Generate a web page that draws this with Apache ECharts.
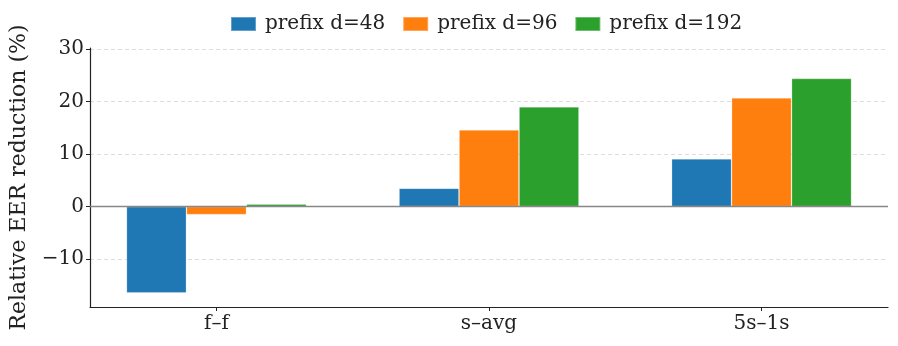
<!DOCTYPE html>
<html>
<head>
<meta charset="utf-8">
<script src="https://cdn.jsdelivr.net/npm/echarts@6/dist/echarts.min.js"></script>
<style>
  html, body { margin: 0; padding: 0; background: #fff; }
  #chart { width: 898px; height: 346px; }
</style>
</head>
<body>
<div id="chart"></div>
<script>
// data
var categories = ['f–f', 's–avg', '5s–1s']
var seriesNames = ['prefix d=48', 'prefix d=96', 'prefix d=192']
var d48 = [-16.4, 3.5, 9.1]
var d96 = [-1.5, 14.6, 20.7]
var d192 = [0.5, 19.0, 24.4]
var yTicks = [-10, 0, 10, 20, 30]
var colors = ['#1f77b4', '#ff7f0e', '#2ca02c']

var font = 'DejaVu Serif'
var chart = echarts.init(document.getElementById('chart'), null, { renderer: 'canvas' })

function toPoints(vals) {
  return vals.map(function (v, i) { return [i, v] })
}

var allData = [d48, d96, d192]
var series = allData.map(function (vals, k) {
  var s = {
    name: seriesNames[k],
    type: 'bar',
    data: toPoints(vals),
    barWidth: 60,
    barGap: '0%',
    itemStyle: {
      color: colors[k],
      borderColor: 'rgba(255,255,255,0.3)',
      borderWidth: 0.8
    },
    animation: false
  }
  if (k === 2) {
    // horizontal zero line
    s.markLine = {
      silent: true,
      symbol: ['none', 'none'],
      label: { show: false },
      lineStyle: { color: '#888', width: 1.3, type: 'solid' },
      data: [{ yAxis: 0 }],
      z: 10
    }
  }
  return s
})

chart.setOption({
  animation: false,
  color: colors,
  textStyle: { fontFamily: font },
  legend: {
    top: 14,
    left: 230,
    icon: 'rect',
    itemWidth: 25,
    itemHeight: 14,
    itemGap: 17,
    padding: 0,
    textStyle: { fontFamily: font, fontSize: 20, color: '#222', padding: [0, 0, 0, 4] },
    data: seriesNames
  },
  grid: {
    left: 89,
    right: 10,
    top: 48,
    bottom: 39
  },
  xAxis: {
    type: 'value',
    min: -0.464,
    max: 2.464,
    axisLine: { show: true, onZero: false, lineStyle: { color: '#222', width: 1.2 } },
    axisTick: { show: true, customValues: [0, 1, 2], length: 4, inside: false, lineStyle: { color: '#222' } },
    axisLabel: {
      customValues: [0, 1, 2],
      formatter: function (v) { return categories[Math.round(v)] },
      fontFamily: font,
      fontSize: 20,
      color: '#222',
      margin: 7
    },
    splitLine: { show: false }
  },
  yAxis: {
    type: 'value',
    min: -19.1,
    max: 30.2,
    name: 'Relative EER reduction (%)',
    nameLocation: 'middle',
    nameRotate: 90,
    nameGap: 60,
    nameTextStyle: { fontFamily: font, fontSize: 22, color: '#222' },
    axisLine: { show: true, onZero: false, lineStyle: { color: '#222', width: 1.2 } },
    axisTick: { show: true, customValues: yTicks, length: 4, lineStyle: { color: '#222' } },
    axisLabel: {
      customValues: yTicks,
      formatter: function (v) { return v < 0 ? '\u2212' + Math.abs(v) : String(v) },
      fontFamily: font,
      fontSize: 20,
      color: '#222',
      margin: 6
    },
    splitLine: { show: true, lineStyle: { color: '#d4d4d4', type: [4, 3], width: 0.8 } }
  },
  series: series
})
</script>
</body>
</html>
